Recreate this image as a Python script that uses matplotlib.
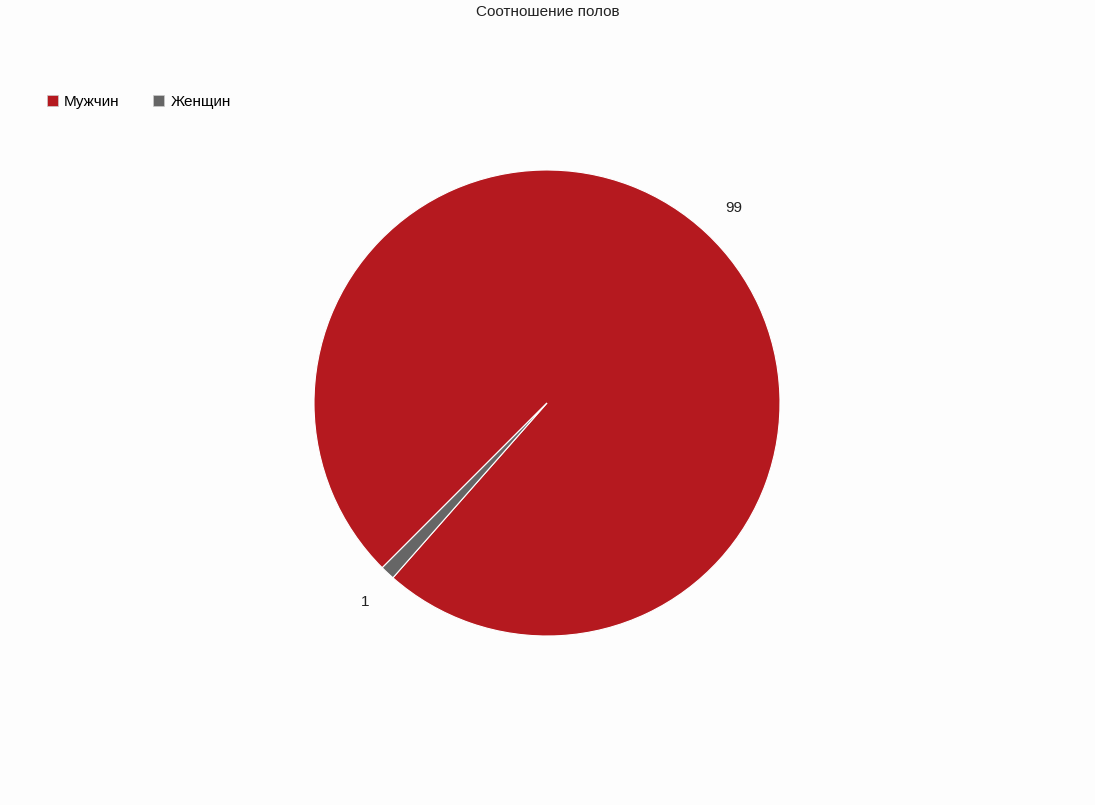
import matplotlib.pyplot as plt
from matplotlib.patches import Patch

plt.rcParams['font.family'] = ['Liberation Sans', 'DejaVu Sans']

title = 'Соотношение полов'
categories = ['Мужчин', 'Женщин']
values = [99, 1]
colors = ['#b5191f', '#666666']
bg = '#fdfdfd'

fig = plt.figure(figsize=(10.95, 8.05), dpi=100, facecolor=bg)
ax = fig.add_axes([314 / 1095, 169 / 805, 466 / 1095, 466 / 805])
ax.set_facecolor(bg)

wedges, texts = ax.pie(values, labels=[str(v) for v in values], colors=colors,
                       startangle=225, counterclock=False, labeldistance=1.17,
                       wedgeprops=dict(edgecolor='white', linewidth=0.8),
                       textprops=dict(fontsize=11, color='#222222'))
for t in texts:
    t.set_ha('center')
    t.set_va('center')
# nudge labels toward reference spots
texts[0].set_y(texts[0].get_position()[1] - 0.015)
texts[1].set_x(texts[1].get_position()[0] + 0.02)
ax.set_xlim(-1, 1)
ax.set_ylim(-1, 1)
ax.set_aspect('equal')
ax.axis('off')

fig.text(0.5, 1 - 12 / 805, title, ha='center', va='center', fontsize=11, color='#222222')

handles = [Patch(facecolor=c, edgecolor='#cccccc', linewidth=0.5) for c in colors]
fig.legend(handles, categories, loc='upper left', bbox_to_anchor=(47 / 1095, 1 - 95 / 805),
           ncol=2, frameon=False, fontsize=11, handlelength=0.72, handleheight=0.72,
           handletextpad=0.4, columnspacing=2.2, borderaxespad=0, borderpad=0)

fig.savefig('out.png', dpi=100, facecolor=bg)
